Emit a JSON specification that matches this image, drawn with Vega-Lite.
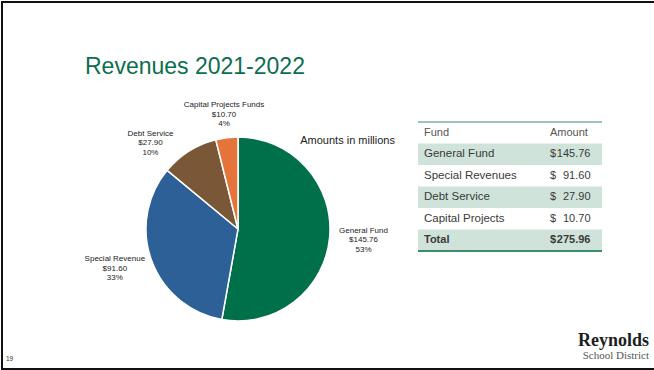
{
  "$schema": "https://vega.github.io/schema/vega-lite/v6.json",
  "background": "white",
  "padding": {"left": 1, "top": 1, "right": 0, "bottom": 0},
  "datasets": {
    "funds": [
      {"fund": "General Fund", "amount": 145.76, "label": "General Fund\n$145.76\n53%", "ord": 1},
      {"fund": "Special Revenue", "amount": 91.60, "label": "Special Revenue\n$91.60\n33%", "ord": 2},
      {"fund": "Debt Service", "amount": 27.90, "label": "Debt Service\n$27.90\n10%", "ord": 3},
      {"fund": "Capital Projects Funds", "amount": 10.70, "label": "Capital Projects Funds\n$10.70\n4%", "ord": 4}
    ],
    "table": [
      {"row": "General Fund", "amount": 145.76},
      {"row": "Special Revenues", "amount": 91.60},
      {"row": "Debt Service", "amount": 27.90},
      {"row": "Capital Projects", "amount": 10.70},
      {"row": "Total", "amount": 275.96}
    ]
  },
  "hconcat": [
    {"width": 2, "height": 369, "view": {"fill": "#111111", "stroke": null}, "data": {"values": []}, "mark": "point"},
    {
      "vconcat": [
        {"width": 651, "height": 2, "view": {"fill": "#111111", "stroke": null}, "data": {"values": []}, "mark": "point"},
        {
          "vconcat": [
            {
              "hconcat": [
                {"width": 1, "height": 268, "view": {"fill": null, "stroke": null}, "data": {"values": []}, "mark": "point",
                 "title": {"text": "19", "orient": "bottom", "anchor": "start", "baseline": "top", "fontSize": 6.5, "fontWeight": "normal", "color": "#333333", "dx": 3, "offset": -7}},
                {
                  "hconcat": [
                    {
                      "width": 326,
                      "height": 268,
                      "title": {"text": "Revenues 2021-2022", "anchor": "start", "orient": "top", "baseline": "alphabetic", "fontSize": 23, "fontWeight": "normal", "font": "Liberation Sans", "color": "#0B6E4F", "offset": -14, "dx": 10},
                      "data": {"name": "funds"},
                      "encoding": {
                        "theta": {"field": "amount", "type": "quantitative", "stack": true},
                        "order": {"field": "ord", "type": "quantitative"},
                        "color": {"field": "fund", "type": "nominal", "legend": null,
                          "scale": {"domain": ["General Fund", "Special Revenue", "Debt Service", "Capital Projects Funds"], "range": ["#00704B", "#2D6096", "#7A5736", "#E5743A"]}}
                      },
                      "layer": [
                        {"mark": {"type": "arc", "outerRadius": 92, "stroke": "#ffffff", "strokeWidth": 1.5}},
                        {"mark": {"type": "text", "radius": 126, "dy": -9.5, "fontSize": 8, "lineBreak": "\n", "lineHeight": 9.5, "align": "center", "baseline": "middle"},
                         "encoding": {"color": {"value": "#222222"}, "detail": {"field": "fund"},
                           "text": {"condition": {"test": "datum.fund === 'General Fund'", "field": "label"}, "value": ""}}},
                        {"mark": {"type": "text", "radius": 129, "dx": -2, "dy": -14, "fontSize": 8, "lineBreak": "\n", "lineHeight": 9.5, "align": "center", "baseline": "middle"},
                         "encoding": {"color": {"value": "#222222"}, "detail": {"field": "fund"},
                           "text": {"condition": {"test": "datum.fund === 'Special Revenue'", "field": "label"}, "value": ""}}},
                        {"mark": {"type": "text", "radius": 125, "dx": -21, "dy": 10.5, "fontSize": 8, "lineBreak": "\n", "lineHeight": 9.5, "align": "center", "baseline": "middle"},
                         "encoding": {"color": {"value": "#222222"}, "detail": {"field": "fund"},
                           "text": {"condition": {"test": "datum.fund === 'Debt Service'", "field": "label"}, "value": ""}}},
                        {"mark": {"type": "text", "radius": 115, "dy": -9.5, "fontSize": 8, "lineBreak": "\n", "lineHeight": 9.5, "align": "center", "baseline": "middle"},
                         "encoding": {"color": {"value": "#222222"}, "detail": {"field": "fund"},
                           "text": {"condition": {"test": "datum.fund === 'Capital Projects Funds'", "field": "label"}, "value": ""}}}
                      ]
                    },
                    {
                      "width": 184,
                      "height": 156,
                      "title": {"text": "Reynolds", "subtitle": "School District", "orient": "bottom", "anchor": "end", "font": "Liberation Serif", "fontSize": 18, "fontWeight": "bold", "color": "#1E1E1E", "subtitleFont": "Liberation Serif", "subtitleFontSize": 11, "subtitleColor": "#555555", "subtitlePadding": 0, "offset": 80, "dx": 46},
                      "data": {"name": "table"},
                      "layer": [
                        {"transform": [{"filter": "indexof(['General Fund', 'Debt Service', 'Total'], datum.row) >= 0"}],
                         "mark": {"type": "rect", "color": "#CFE3DA"},
                         "encoding": {"y": {"field": "row", "type": "nominal", "axis": null,
                           "scale": {"type": "band", "domain": ["header", "General Fund", "Special Revenues", "Debt Service", "Capital Projects", "Total"], "paddingInner": 0, "paddingOuter": 0.628, "align": 1}}}},
                        {"data": {"values": [{}]},
                         "mark": {"type": "rule", "color": "#3D8C6C", "strokeWidth": 1},
                         "encoding": {"y": {"datum": "header", "bandPosition": 0, "type": "nominal", "axis": null}}},
                        {"data": {"values": [{}]},
                         "mark": {"type": "rule", "color": "#3D8C6C", "strokeWidth": 2},
                         "encoding": {"y": {"datum": "Total", "bandPosition": 1, "type": "nominal", "axis": null}}},
                        {"data": {"values": [{"h": "Fund"}]},
                         "mark": {"type": "text", "align": "left", "baseline": "middle", "fontSize": 11, "color": "#555555", "dx": 6},
                         "encoding": {
                           "x": {"datum": "Fund", "bandPosition": 0, "type": "nominal", "axis": null, "scale": {"type": "band", "domain": ["Fund", "Amount"], "paddingInner": 0, "paddingOuter": 0}},
                           "y": {"datum": "header", "type": "nominal", "axis": null},
                           "text": {"field": "h"}}},
                        {"data": {"values": [{"h": "Amount"}]},
                         "mark": {"type": "text", "align": "left", "baseline": "middle", "fontSize": 11, "color": "#555555", "dx": 40},
                         "encoding": {
                           "x": {"datum": "Amount", "bandPosition": 0, "type": "nominal", "axis": null},
                           "y": {"datum": "header", "type": "nominal", "axis": null},
                           "text": {"field": "h"}}},
                        {"transform": [{"filter": "datum.row !== 'Total'"}],
                         "mark": {"type": "text", "align": "left", "baseline": "middle", "fontSize": 11.5, "color": "#3A3A3A", "dx": 6},
                         "encoding": {
                           "x": {"datum": "Fund", "bandPosition": 0, "type": "nominal", "axis": null},
                           "y": {"field": "row", "type": "nominal", "axis": null},
                           "text": {"field": "row"}}},
                        {"transform": [{"filter": "datum.row !== 'Total'"}],
                         "mark": {"type": "text", "align": "left", "baseline": "middle", "fontSize": 11, "color": "#3A3A3A", "dx": 40},
                         "encoding": {
                           "x": {"datum": "Amount", "bandPosition": 0, "type": "nominal", "axis": null},
                           "y": {"field": "row", "type": "nominal", "axis": null},
                           "text": {"value": "$"}}},
                        {"transform": [{"filter": "datum.row !== 'Total'"}],
                         "mark": {"type": "text", "align": "right", "baseline": "middle", "fontSize": 11, "color": "#3A3A3A", "dx": -11.5},
                         "encoding": {
                           "x": {"datum": "Amount", "bandPosition": 1, "type": "nominal", "axis": null},
                           "y": {"field": "row", "type": "nominal", "axis": null},
                           "text": {"field": "amount", "type": "quantitative", "format": ".2f"}}},
                        {"transform": [{"filter": "datum.row === 'Total'"}],
                         "mark": {"type": "text", "align": "left", "baseline": "middle", "fontSize": 11, "fontWeight": "bold", "color": "#3A3A3A", "dx": 6},
                         "encoding": {
                           "x": {"datum": "Fund", "bandPosition": 0, "type": "nominal", "axis": null},
                           "y": {"field": "row", "type": "nominal", "axis": null},
                           "text": {"field": "row"}}},
                        {"transform": [{"filter": "datum.row === 'Total'"}],
                         "mark": {"type": "text", "align": "left", "baseline": "middle", "fontSize": 11, "fontWeight": "bold", "color": "#3A3A3A", "dx": 40},
                         "encoding": {
                           "x": {"datum": "Amount", "bandPosition": 0, "type": "nominal", "axis": null},
                           "y": {"field": "row", "type": "nominal", "axis": null},
                           "text": {"value": "$"}}},
                        {"transform": [{"filter": "datum.row === 'Total'"}],
                         "mark": {"type": "text", "align": "right", "baseline": "middle", "fontSize": 11, "fontWeight": "bold", "color": "#3A3A3A", "dx": -11.5},
                         "encoding": {
                           "x": {"datum": "Amount", "bandPosition": 1, "type": "nominal", "axis": null},
                           "y": {"field": "row", "type": "nominal", "axis": null},
                           "text": {"field": "amount", "type": "quantitative", "format": ".2f"}}},
                        {"data": {"values": [{"note": "Amounts in millions"}]},
                         "mark": {"type": "text", "align": "right", "baseline": "middle", "fontSize": 11, "color": "#222222", "dx": -23, "dy": 8},
                         "encoding": {
                           "x": {"datum": "Fund", "bandPosition": 0, "type": "nominal", "axis": null},
                           "y": {"datum": "header", "type": "nominal", "axis": null},
                           "text": {"field": "note"}}}
                      ]
                    }
                  ],
                  "spacing": 17,
                  "bounds": "flush"
                }
              ],
              "spacing": 71,
              "bounds": "flush"
            },
            {"width": 651, "height": 2, "view": {"fill": "#111111", "stroke": null}, "data": {"values": []}, "mark": "point"}
          ],
          "spacing": 5,
          "bounds": "full"
        }
      ],
      "spacing": 52,
      "bounds": "full"
    }
  ],
  "spacing": 0,
  "bounds": "flush",
  "config": {"view": {"stroke": null}, "font": "Liberation Sans"}
}
